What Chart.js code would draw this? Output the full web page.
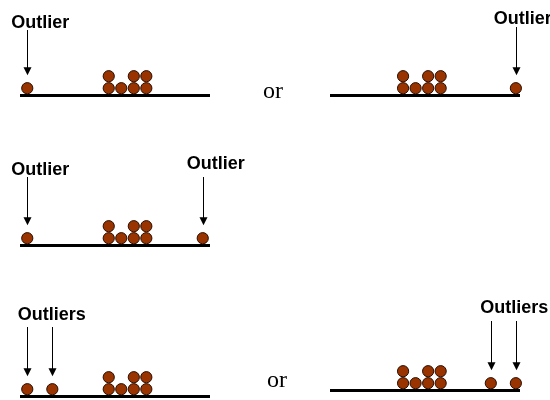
<!DOCTYPE html>
<html lang="en">
<head>
  <meta charset="utf-8" />
  <title>Outliers in dot plots</title>
  <script src="https://cdn.jsdelivr.net/npm/chart.js@4.4.1/dist/chart.umd.min.js"></script>
  <style>
    html, body { margin: 0; padding: 0; background: #fff; }
    #wrap { position: relative; width: 550px; height: 400px; overflow: hidden; }
    #wrap canvas { position: absolute; left: 0; top: 0; }
  </style>
</head>
<body>
  <div id="wrap">
    <canvas id="p1" width="550" height="400"></canvas>
    <canvas id="p2" width="550" height="400"></canvas>
    <canvas id="p3" width="550" height="400"></canvas>
    <canvas id="p4" width="550" height="400"></canvas>
    <canvas id="p5" width="550" height="400"></canvas>
  </div>

  <script>
    // the same cluster of values in every panel; repeated values stack up
    const cluster = [7, 7, 8, 9, 9, 10, 10];

    // outlying values, one array per panel
    const outliersTopLeft = [0.5];
    const outliersTopRight = [16];
    const outliersMiddle = [0.5, 14.5];
    const outliersBottomLeft = [0.5, 2.5];
    const outliersBottomRight = [14, 16];

    const labelOne = 'Outlier';
    const labelMany = 'Outliers';
    const orText = 'or';

    const DOT = '#993300';
    const DOT_EDGE = '#2a0e00';
    const LABEL_FONT = 'bold 18px "Liberation Sans", Arial, sans-serif';
    const OR_FONT = '24px "Liberation Serif", "Times New Roman", serif';

    // stack repeated values: 1st copy at level 1, 2nd at level 2 ...
    function stackPoints(values) {
      const seen = {};
      return values.map((v) => {
        seen[v] = (seen[v] || 0) + 1;
        return { x: v, y: seen[v] };
      });
    }

    const notesPlugin = {
      id: 'notes',
      afterDatasetsDraw(chart, args, opts) {
        const ctx = chart.ctx;
        const xs = chart.scales.x;
        const ys = chart.scales.y;
        const tip = ys.getPixelForValue(1) - 13;
        ctx.save();
        ctx.fillStyle = '#000';
        ctx.strokeStyle = '#000';
        ctx.lineWidth = 1;
        (opts.labels || []).forEach((l) => {
          const px = l.group.map((i) => xs.getPixelForValue(opts.outliers[i]));
          px.forEach((x) => {
            const cx = Math.round(x) + 0.5;
            ctx.beginPath();
            ctx.moveTo(cx, l.arrowTop);
            ctx.lineTo(cx, tip - 7);
            ctx.stroke();
            ctx.beginPath();
            ctx.moveTo(cx - 4, tip - 8);
            ctx.lineTo(cx + 4, tip - 8);
            ctx.lineTo(cx, tip);
            ctx.closePath();
            ctx.fill();
          });
          const mid = px.reduce((a, b) => a + b, 0) / px.length;
          ctx.font = LABEL_FONT;
          ctx.textAlign = 'center';
          ctx.textBaseline = 'alphabetic';
          ctx.fillText(l.text, mid + l.dx, l.textY);
        });
        (opts.extra || []).forEach((n) => {
          ctx.font = OR_FONT;
          ctx.textAlign = 'center';
          ctx.textBaseline = 'alphabetic';
          ctx.fillText(n.text, n.x, n.y);
        });
        ctx.restore();
      }
    };

    function makePanel(id, p) {
      const yMin = 1 - 6.8 / 12;
      new Chart(document.getElementById(id), {
        type: 'scatter',
        data: {
          datasets: [{
            data: stackPoints(cluster.concat(p.outliers)),
            backgroundColor: DOT,
            borderColor: DOT_EDGE,
            borderWidth: 1,
            pointRadius: 5.6,
            clip: false
          }]
        },
        options: {
          responsive: false,
          animation: false,
          events: [],
          layout: {
            autoPadding: false,
            padding: { left: p.left, right: 550 - p.right, top: p.base - 36, bottom: 400 - p.base }
          },
          plugins: {
            legend: { display: false },
            tooltip: { enabled: false },
            notes: { outliers: p.outliers, labels: p.labels, extra: p.extra || [] }
          },
          scales: {
            x: {
              type: 'linear', min: p.min, max: p.max,
              grid: { display: false, drawTicks: false },
              ticks: { display: false },
              border: { display: true, color: '#000', width: 3 }
            },
            y: { type: 'linear', min: yMin, max: yMin + 3, display: false }
          }
        },
        plugins: [notesPlugin]
      });
    }

    makePanel('p1', {
      left: 21, right: 209, base: 95, min: 0, max: 15, outliers: outliersTopLeft,
      labels: [{ text: labelOne, group: [0], dx: 13, textY: 28, arrowTop: 30 }],
      extra: [{ text: orText, x: 273, y: 98 }, { text: orText, x: 277, y: 387 }]
    });
    makePanel('p2', {
      left: 331, right: 519, base: 95, min: 1.25, max: 16.25, outliers: outliersTopRight,
      labels: [{ text: labelOne, group: [0], dx: 7, textY: 24, arrowTop: 27 }]
    });
    makePanel('p3', {
      left: 21, right: 209, base: 245, min: 0, max: 15, outliers: outliersMiddle,
      labels: [
        { text: labelOne, group: [0], dx: 13, textY: 175, arrowTop: 177 },
        { text: labelOne, group: [1], dx: 13, textY: 169, arrowTop: 177 }
      ]
    });
    makePanel('p4', {
      left: 21, right: 209, base: 396, min: 0, max: 15, outliers: outliersBottomLeft,
      labels: [{ text: labelMany, group: [0, 1], dx: 12, textY: 320, arrowTop: 327 }]
    });
    makePanel('p5', {
      left: 331, right: 519, base: 390, min: 1.25, max: 16.25, outliers: outliersBottomRight,
      labels: [{ text: labelMany, group: [0, 1], dx: 11, textY: 313, arrowTop: 321 }]
    });
  </script>
</body>
</html>
